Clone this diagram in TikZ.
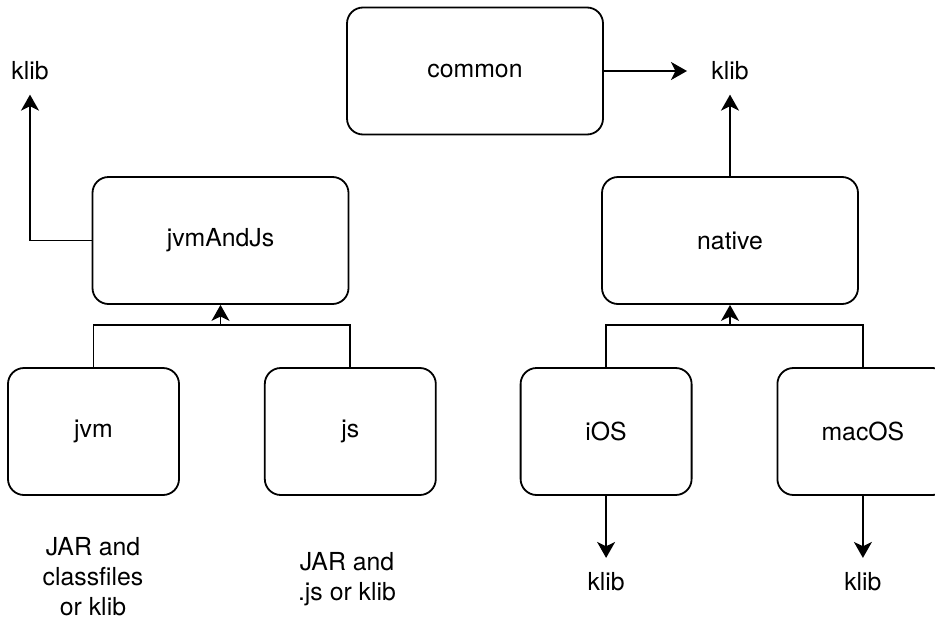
\documentclass[tikz,border=0pt]{standalone}
\usepackage{fontspec}
\setmainfont{TeX Gyre Heros}
\usepackage{tikz}
\usetikzlibrary{arrows.meta,positioning}
\tikzset{
  >={Stealth[length=8pt,width=9pt,inset=2.2pt]},
  link/.style={line width=0.9pt, draw=black},
  flow/.style={link, ->},
  box/.style={
    draw=black,
    line width=0.9pt,
    rounded corners=8pt,
    fill=white,
    align=center,
    inner sep=4pt
  },
  srcbox/.style={box, minimum width=85.5pt, minimum height=63.5pt},
  setbox/.style={box, minimum width=128pt, minimum height=63.5pt},
  output/.style={inner xsep=12pt, inner ysep=7pt},
  note/.style={align=center, inner sep=1pt}
}

\begin{document}
\begin{tikzpicture}[x=0.5pt,y=-0.5pt,every node/.style={font=\fontsize{12.4}{15}\selectfont}]
  \useasboundingbox (0,0) rectangle (935,621);

  % shared source sets
  \node[setbox] (common) at (475,71) {common};
  \node[setbox] (jvmAndJs) at (220.5,240.5) {jvmAndJs};
  \node[setbox] (native) at (730,240.5) {native};

  % platform source sets
  \node[srcbox] (jvm) at (93.5,431.5) {jvm};
  \node[srcbox,right=42pt of jvm] (js) {js};
  \node[srcbox,right=41.5pt of js] (ios) {iOS};
  \node[srcbox,right=42pt of ios] (macos) {macOS};

  % outputs
  \node[output] (klibjvm) at (30,71) {klib};
  \node[output] (klibnative) at (730,71) {klib};
  \node[output,below=31pt of ios] (klibios) {klib};
  \node[output,below=31pt of macos] (klibmacos) {klib};

  \node[note] (jvmnote) at (93,577) {JAR and\\classfiles\\or klib};
  \node[note] (jsnote) at (347,579) {JAR and\\.js or klib};

  \coordinate (jvmjoin) at (220.5,325);
  \coordinate (nativejoin) at (730,325);

  \draw[flow] (jvmAndJs.west) -| (klibjvm.south);
  \draw[flow] (common.east) -- (klibnative.west);
  \draw[flow] (native.north) -- (klibnative.south);

  \draw[link] (jvm.north) |- (jvmjoin) -| (js.north);
  \draw[flow] (jvmjoin) -- (jvmAndJs.south);
  \draw[link] (ios.north) |- (nativejoin) -| (macos.north);
  \draw[flow] (nativejoin) -- (native.south);

  \foreach \a/\b in {ios/klibios,macos/klibmacos}
    \draw[flow] (\a) -- (\b);
\end{tikzpicture}
\end{document}
